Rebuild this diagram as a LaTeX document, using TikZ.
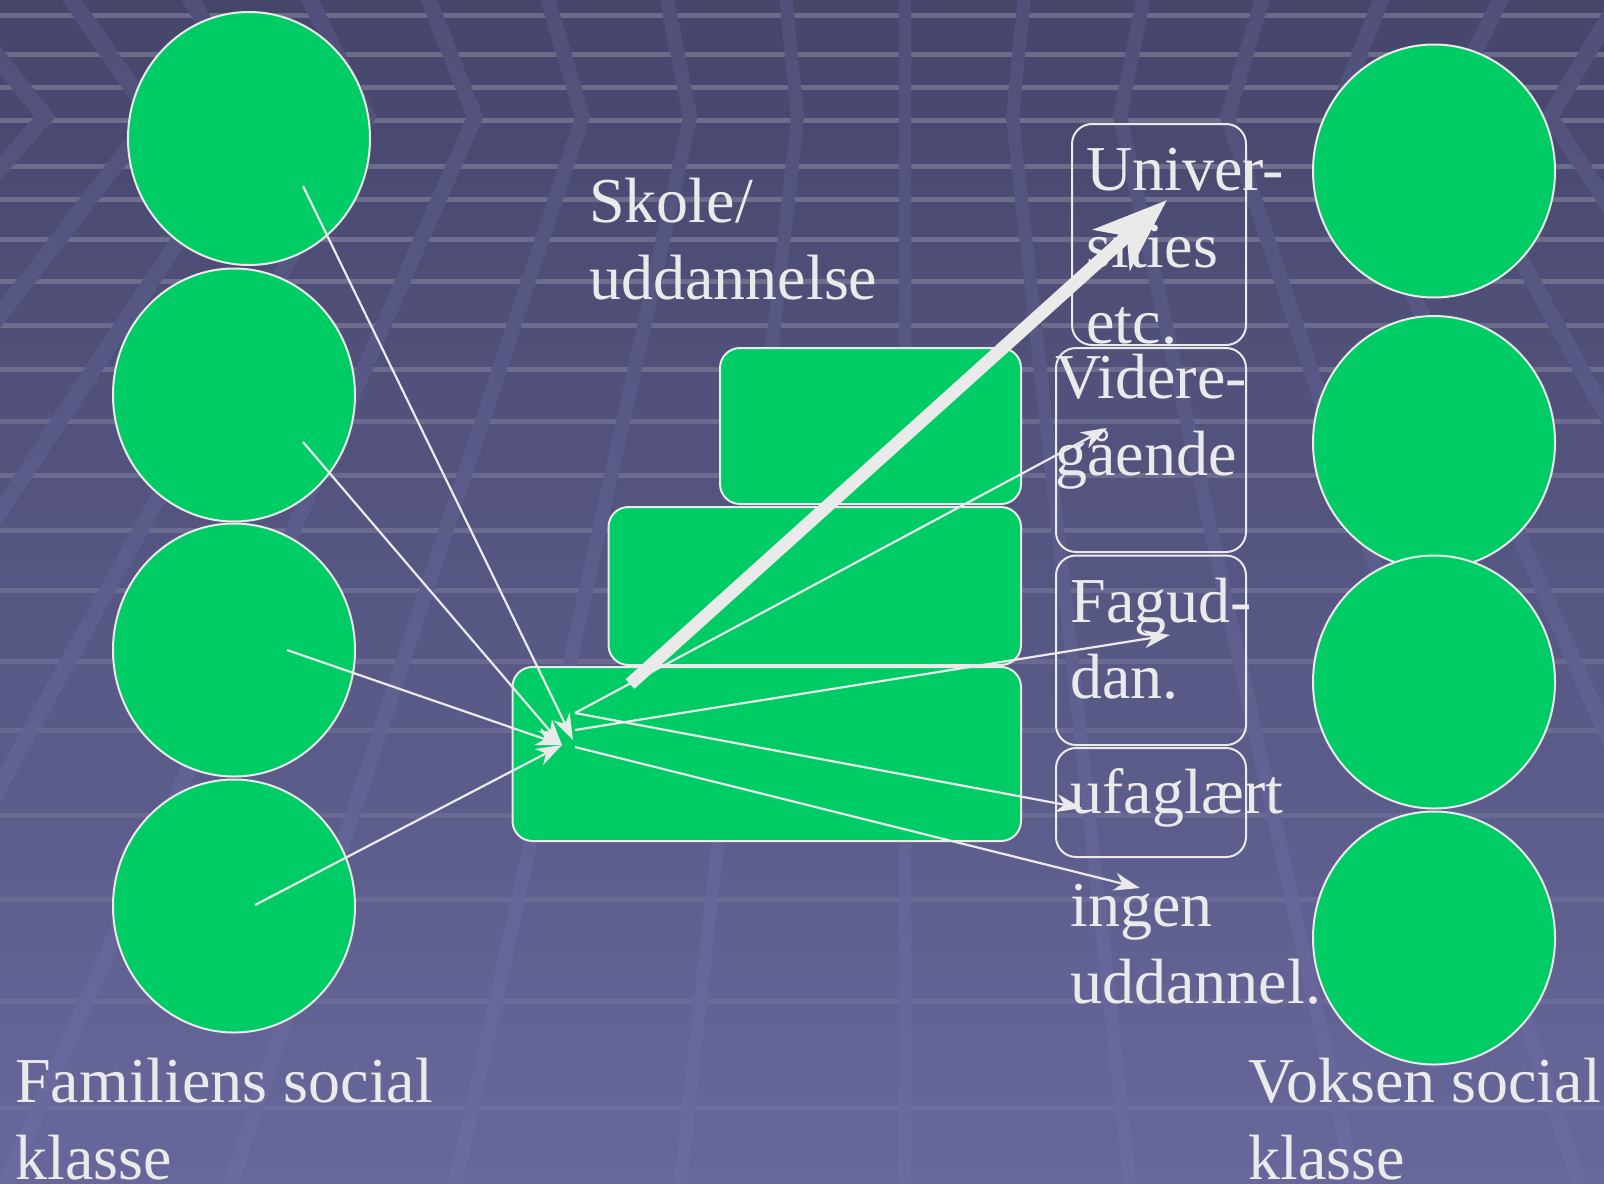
\documentclass[tikz,border=0pt]{standalone}
\usepackage{fontspec}
\setmainfont{Liberation Serif}
\usetikzlibrary{arrows.meta,shapes.geometric}
\definecolor{bgtop}{HTML}{46466B}
\definecolor{bgbot}{HTML}{67679B}
\definecolor{vtop}{HTML}{50507A}
\definecolor{vbot}{HTML}{6B6BA1}
\definecolor{grn}{HTML}{00CC66}
\definecolor{ln}{HTML}{EAEAEA}
\begin{document}
\begin{tikzpicture}[x=0.5pt,y=-0.5pt,
  circ/.style={ellipse, draw=ln, line width=1pt, fill=grn, minimum width=121pt, minimum height=126.5pt, inner sep=0pt},
  gbox/.style={draw=ln, line width=1pt, fill=grn, rounded corners=10pt, inner sep=0pt},
  obox/.style={draw=ln, line width=1pt, rounded corners=10pt, inner sep=0pt},
  lbl/.style={text=ln, font=\fontsize{32}{38}\selectfont, anchor=base west, inner sep=0pt},
  thinarrow/.style={draw=ln, line width=1.1pt, -{Stealth[length=13pt,width=9pt,inset=4pt]}},
  thickarrow/.style={draw=ln, line width=6.5pt, -{Stealth[length=37pt,width=27pt,inset=10pt]}},
  hband/.style={draw=white, line width=2.5pt}
]
\useasboundingbox (0,0) rectangle (1604,1183);
% background
\shade[top color=bgtop, bottom color=bgbot] (0,0) rectangle (1604,1183);
\begin{scope}
\clip (0,0) rectangle (1604,1183);
\foreach \yy/\oo in {15/0.2, 54/0.2, 87/0.2, 120/0.2, 166/0.19, 199/0.19, 239/0.18, 281/0.18, 325/0.17, 369/0.16, 421/0.15, 475/0.14, 530/0.13, 590/0.12, 661/0.1, 730/0.09, 815/0.08, 899/0.07, 1001/0.06, 1107/0.05}
  \draw[hband, opacity=\oo] (0,\yy) -- (1604,\yy);
\clip
  \foreach \n in {-9,...,7} {
    \pgfextra{
      \pgfmathsetmacro\xc{905+107.5*\n}
      \pgfmathsetmacro\xt{\xc+(\xc-905)*0.107}
      \pgfmathsetmacro\xb{905+(\xc-905)*2.09}
      \pgfmathsetmacro\ww{6+abs(\n)*0.6}
    }
    (\xt-\ww,0) -- (\xc-\ww,117) -- (\xb-\ww,1183) -- (\xb+\ww,1183) -- (\xc+\ww,117) -- (\xt+\ww,0) -- cycle
  };
\shade[top color=vtop, bottom color=vbot] (0,0) rectangle (1604,1183);
\end{scope}
% left circles
\node[circ] (L1) at (249,138.5) {};
\node[circ] (L2) at (234,395) {};
\node[circ] (L3) at (234,650) {};
\node[circ] (L4) at (234,906) {};
% right circles
\node[circ] (R1) at (1434,171) {};
\node[circ] (R2) at (1434,442.5) {};
\node[circ] (R3) at (1434,682) {};
\node[circ] (R4) at (1434,938) {};
% green steps
\node[gbox, minimum width=150.5pt, minimum height=78pt] (G1) at (870.5,426) {};
\node[gbox, minimum width=206.25pt, minimum height=79pt] (G2) at (814.75,586) {};
\node[gbox, minimum width=254.25pt, minimum height=87pt] (G3) at (766.75,754) {};
% outline boxes
\node[obox, minimum width=87pt, minimum height=110.5pt] (B1) at (1159,234.5) {};
\node[obox, minimum width=95pt, minimum height=102pt] (B2) at (1151,450) {};
\node[obox, minimum width=95pt, minimum height=94.75pt] (B3) at (1151,650.25) {};
\node[obox, minimum width=95pt, minimum height=54.5pt] (B4) at (1151,802.5) {};
% texts
\node[lbl] (t1a) at (589,222) {Skole/};
\node[lbl] (t1b) at (589,299) {uddannelse};
\node[lbl] (t2a) at (1086,190) {Univer-};
\node[lbl] (t2b) at (1086,267) {sities};
\node[lbl] (t2c) at (1086,343) {etc.};
\node[lbl] (t3a) at (1055,398) {Videre-};
\node[lbl] (t3b) at (1055,475) {gående};
\node[lbl] (t4a) at (1070,622) {Fagud-};
\node[lbl] (t4b) at (1070,698) {dan.};
\node[lbl] (t5) at (1070,813) {ufaglært};
\node[lbl] (t6a) at (1070,926) {ingen};
\node[lbl] (t6b) at (1070,1003) {uddannel.};
\node[lbl] (t7a) at (15,1102) {Familiens social};
\node[lbl] (t7b) at (15,1179) {klasse};
\node[lbl] (t8a) at (1248,1102) {Voksen social};
\node[lbl] (t8b) at (1248,1179) {klasse};
% connector points
\coordinate (p1) at (303,186);
\coordinate (p2) at (303,442);
\coordinate (p3) at (287,650);
\coordinate (p4) at (255,905);
\coordinate (q1) at (573,740);
\coordinate (q2) at (562,745);
\coordinate (s1) at (575,713);
\coordinate (s2) at (575,730);
\coordinate (s3) at (575,747);
\coordinate (e1) at (1107,428);
\coordinate (e2) at (1170,635);
\coordinate (e3) at (1082,808);
\coordinate (e4) at (1140,888);
\coordinate (k0) at (630,684);
\coordinate (k1) at (1167,200);
% arrows
\draw[thinarrow] (p1) -- (q1);
\draw[thinarrow] (p2) -- (q2);
\draw[thinarrow] (p3) -- (q2);
\draw[thinarrow] (p4) -- (q2);
\draw[thinarrow] (s1) -- (e1);
\draw[thinarrow] (s1) -- (e3);
\draw[thinarrow] (s2) -- (e2);
\draw[thinarrow] (s3) -- (e4);
\draw[thickarrow] (k0) -- (k1);
\end{tikzpicture}
\end{document}
